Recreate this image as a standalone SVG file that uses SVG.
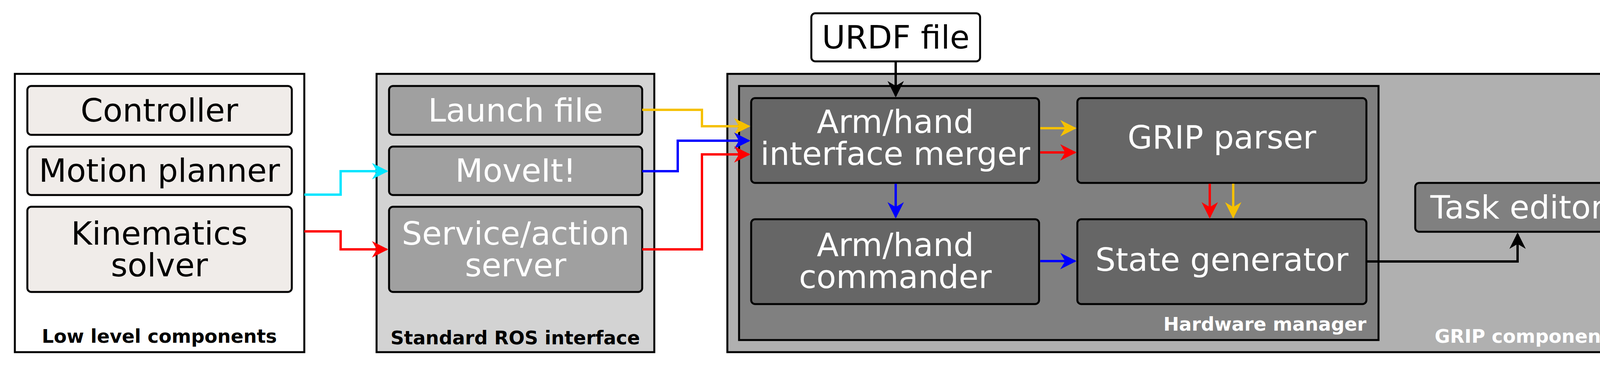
<svg xmlns="http://www.w3.org/2000/svg" width="4216" height="939" viewBox="0 0 4216 939">
<style>
text{font-family:"DejaVu Sans",sans-serif;text-anchor:middle}
.n{font-size:82px}
.w{fill:#fff}
.lbl{font-size:48px;font-weight:bold}
.c{fill:none;stroke-width:6}
.box{stroke:#000;stroke-width:5}
</style>
<defs>
<marker id="ak" viewBox="0 0 10 10" refX="9" refY="5" markerWidth="7" markerHeight="7" markerUnits="strokeWidth" orient="auto"><path d="M0,0L10,5L0,10L3,5z" fill="#000"/></marker>
<marker id="ar" viewBox="0 0 10 10" refX="9" refY="5" markerWidth="7" markerHeight="7" markerUnits="strokeWidth" orient="auto"><path d="M0,0L10,5L0,10L3,5z" fill="#f00"/></marker>
<marker id="ab" viewBox="0 0 10 10" refX="9" refY="5" markerWidth="7" markerHeight="7" markerUnits="strokeWidth" orient="auto"><path d="M0,0L10,5L0,10L3,5z" fill="#00f"/></marker>
<marker id="ay" viewBox="0 0 10 10" refX="9" refY="5" markerWidth="7" markerHeight="7" markerUnits="strokeWidth" orient="auto"><path d="M0,0L10,5L0,10L3,5z" fill="#f5c000"/></marker>
<marker id="ac" viewBox="0 0 10 10" refX="9" refY="5" markerWidth="7" markerHeight="7" markerUnits="strokeWidth" orient="auto"><path d="M0,0L10,5L0,10L3,5z" fill="#00e5ff"/></marker>
</defs>
<g id="low">
<rect x="38" y="189" width="741" height="712" fill="#fff" class="box"/>
<text x="408" y="877" class="lbl">Low level components</text>
</g>
<g id="controller"><rect x="70" y="220" width="677" height="125" rx="10" fill="#f0ece9" class="box"/><text x="408" y="311" class="n">Controller</text></g>
<g id="motion"><rect x="70" y="375" width="677" height="124" rx="10" fill="#f0ece9" class="box"/><text x="408" y="465" class="n">Motion planner</text></g>
<g id="kin"><rect x="70" y="529" width="677" height="218" rx="10" fill="#f0ece9" class="box"/><text x="408" y="626" class="n">Kinematics</text><text x="408" y="707" class="n">solver</text></g>
<g id="ros">
<rect x="964" y="189" width="711" height="712" fill="#d3d3d3" class="box"/>
<text x="1319" y="881" class="lbl">Standard ROS interface</text>
</g>
<g id="launch"><rect x="996" y="220" width="648" height="125" rx="10" fill="#a0a0a0" class="box"/><text x="1320" y="311" class="n w">Launch file</text></g>
<g id="moveit"><rect x="996" y="375" width="648" height="124" rx="10" fill="#a0a0a0" class="box"/><text x="1320" y="465" class="n w">MoveIt!</text></g>
<g id="service"><rect x="996" y="529" width="648" height="218" rx="10" fill="#a0a0a0" class="box"/><text x="1320" y="626" class="n w">Service/action</text><text x="1320" y="707" class="n w">server</text></g>
<g id="grip">
<rect x="1862" y="189" width="2315" height="712" fill="#b0b0b0" class="box"/>
<text x="4150" y="877" class="lbl w" style="text-anchor:end">GRIP components</text>
</g>
<g id="hw">
<rect x="1892" y="220" width="1637" height="650" fill="#808080" class="box"/>
<text x="3498" y="846" class="lbl w" style="text-anchor:end">Hardware manager</text>
</g>
<g id="merger"><rect x="1923" y="251" width="737" height="217" rx="10" fill="#666" class="box"/><text x="2292" y="340" class="n w">Arm/hand</text><text x="2292" y="422" class="n w">interface merger</text></g>
<g id="parser"><rect x="2758" y="251" width="740" height="217" rx="10" fill="#666" class="box"/><text x="3128" y="380" class="n w">GRIP parser</text></g>
<g id="commander"><rect x="1923" y="561" width="737" height="217" rx="10" fill="#666" class="box"/><text x="2292" y="655" class="n w">Arm/hand</text><text x="2292" y="737" class="n w">commander</text></g>
<g id="state"><rect x="2758" y="561" width="740" height="217" rx="10" fill="#666" class="box"/><text x="3128" y="693" class="n w">State generator</text></g>
<g id="task"><rect x="3623" y="468" width="522" height="125" rx="10" fill="#808080" class="box"/><text x="3884" y="559" class="n w">Task editor</text></g>
<g id="urdf"><rect x="2077" y="34" width="432" height="123" rx="10" fill="#fff" class="box"/><text x="2293" y="124" class="n">URDF file</text></g>
<g id="connectors">
<path class="c" stroke="#00e5ff" d="M779,498H872V438H990" marker-end="url(#ac)"/>
<path class="c" stroke="#f00" d="M779,592H872V638H990" marker-end="url(#ar)"/>
<path class="c" stroke="#f5c000" d="M1644,281H1797V323H1917" marker-end="url(#ay)"/>
<path class="c" stroke="#00f" d="M1644,438H1735V360H1917" marker-end="url(#ab)"/>
<path class="c" stroke="#f00" d="M1644,638H1797V395H1917" marker-end="url(#ar)"/>
<path class="c" stroke="#f5c000" d="M2663,328H2752" marker-end="url(#ay)"/>
<path class="c" stroke="#f00" d="M2663,390H2752" marker-end="url(#ar)"/>
<path class="c" stroke="#00f" d="M2293,470V555" marker-end="url(#ab)"/>
<path class="c" stroke="#f00" d="M3097,470V555" marker-end="url(#ar)"/>
<path class="c" stroke="#f5c000" d="M3157,470V555" marker-end="url(#ay)"/>
<path class="c" stroke="#00f" d="M2663,668H2752" marker-end="url(#ab)"/>
<path class="c" stroke="#000" d="M3500,669H3885V599" marker-end="url(#ak)"/>
<path class="c" stroke="#000" d="M2293,157V245" marker-end="url(#ak)"/>
</g>
</svg>
